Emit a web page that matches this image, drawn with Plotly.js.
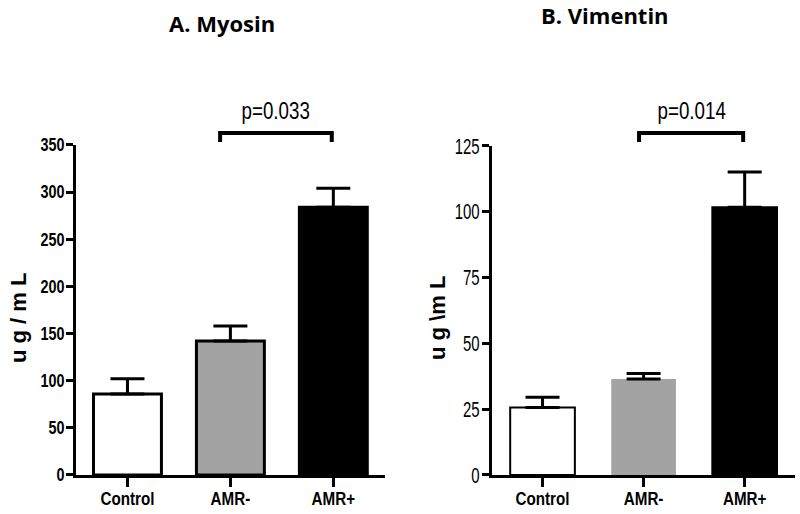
<!DOCTYPE html>
<html>
<head>
<meta charset="utf-8">
<script src="https://cdn.plot.ly/plotly-3.0.1.min.js"></script>
<style>html,body{margin:0;padding:0;background:#fff;}#chart{width:800px;height:514px;}</style>
</head>
<body>
<div id="chart"></div>
<script>
// ---- data ----
const categories = ['Control', 'AMR-', 'AMR+'];
const myosinMean = [86, 142, 284];
const myosinErr = [16, 16, 20];
const vimentinMean = [25.6, 36.5, 101.7];
const vimentinErr = [3.9, 2.1, 13.4];
const myosinTicks = [0, 50, 100, 150, 200, 250, 300, 350];
const vimentinTicks = [0, 25, 50, 75, 100, 125];
const pMyosin = 'p=0.033';
const pVimentin = 'p=0.014';
const titleA = 'A. Myosin';
const titleB = 'B. Vimentin';
const yTitleA = 'u g / m L';
const yTitleB = 'u g \\m L';

const barFill = ['#ffffff', '#a3a3a3', '#000000'];
const sans = '"Liberation Sans", Arial, sans-serif';

const traceA = {
  type: 'bar', x: categories, y: myosinMean, xaxis: 'x', yaxis: 'y',
  width: 0.66,
  marker: { color: barFill, line: { color: '#000', width: 3 } },
  error_y: { type: 'data', symmetric: false, array: myosinErr, arrayminus: myosinErr.map(() => 0),
             color: '#000', thickness: 3, width: 17 },
  showlegend: false, hoverinfo: 'skip'
};
const traceB = {
  type: 'bar', x: categories, y: vimentinMean, xaxis: 'x2', yaxis: 'y2',
  width: 0.64,
  marker: { color: barFill, line: { color: ['#000', '#a3a3a3', '#000'], width: [2, 0, 2] } },
  error_y: { type: 'data', symmetric: false, array: vimentinErr, arrayminus: vimentinErr.map(() => 0),
             color: '#000', thickness: 3, width: 17 },
  showlegend: false, hoverinfo: 'skip'
};

const xaxisCommon = {
  type: 'category', range: [-0.5, 2.5], showline: true, linecolor: '#000', linewidth: 3,
  ticks: 'outside', ticklen: 9, tickwidth: 3, tickcolor: '#000', showgrid: false, zeroline: false,
  ticklabelstandoff: -5,
  tickfont: { family: sans, size: 19, color: '#000', weight: 'bold' }
};
const yaxisCommon = {
  showline: true, linecolor: '#000', linewidth: 3, ticks: 'outside', ticklen: 7, tickwidth: 3,
  tickcolor: '#000', showgrid: false, zeroline: false, tickmode: 'array', ticklabelstandoff: -2
};

const layout = {
  width: 800, height: 514, margin: { l: 0, r: 0, t: 0, b: 0 },
  paper_bgcolor: '#fff', plot_bgcolor: '#fff', bargap: 0.3,
  xaxis: Object.assign({}, xaxisCommon, { domain: [0.095, 0.481], anchor: 'y' }),
  xaxis2: Object.assign({}, xaxisCommon, { domain: [0.615, 0.994], anchor: 'y2',
    tickfont: { family: sans, size: 19, color: '#000', weight: 600 } }),
  yaxis: Object.assign({}, yaxisCommon, {
    anchor: 'x', range: [0, 350], domain: [0.0759, 0.7179], tickvals: myosinTicks, ticktext: myosinTicks.map(String),
    tickfont: { family: sans, size: 18, color: '#000', weight: 'bold' }
  }),
  yaxis2: Object.assign({}, yaxisCommon, {
    anchor: 'x2', range: [0, 125], domain: [0.0759, 0.716], tickvals: vimentinTicks, ticktext: vimentinTicks.map(String),
    tickfont: { family: sans, size: 22, color: '#000' }
  }),
  annotations: [
    { text: titleA, xref: 'paper', yref: 'paper', x: 222 / 800, y: 1 - 23 / 514, showarrow: false,
      xanchor: 'center', yanchor: 'middle', font: { family: '"Open Sans", sans-serif', size: 22, color: '#000', weight: 'bold' } },
    { text: titleB, xref: 'paper', yref: 'paper', x: 605 / 800, y: 1 - 15 / 514, showarrow: false,
      xanchor: 'center', yanchor: 'middle', font: { family: '"Open Sans", sans-serif', size: 22, color: '#000', weight: 'bold' } },
    { text: pMyosin, xref: 'x', yref: 'paper', x: 1.44, y: 1 - 110 / 514, showarrow: false,
      xanchor: 'center', yanchor: 'middle', font: { family: sans, size: 24, color: '#000' } },
    { text: pVimentin, xref: 'x2', yref: 'paper', x: 1.47, y: 1 - 110 / 514, showarrow: false,
      xanchor: 'center', yanchor: 'middle', font: { family: sans, size: 24, color: '#000' } },
    { text: yTitleA, xref: 'paper', yref: 'paper', x: 18 / 800, y: 1 - 318 / 514, showarrow: false, textangle: -90,
      xanchor: 'center', yanchor: 'middle', font: { family: sans, size: 22, color: '#000', weight: 'bold' } },
    { text: yTitleB, xref: 'paper', yref: 'paper', x: 437 / 800, y: 1 - 318 / 514, showarrow: false, textangle: -90,
      xanchor: 'center', yanchor: 'middle', font: { family: sans, size: 22, color: '#000', weight: 'bold' } }
  ],
  shapes: [
    { type: 'path', xref: 'x', yref: 'paper', line: { color: '#000', width: 4 },
      path: 'M 0.9,' + (1 - 142 / 514) + ' L 0.9,' + (1 - 133 / 514) + ' L 1.985,' + (1 - 133 / 514) + ' L 1.985,' + (1 - 142 / 514) },
    { type: 'path', xref: 'x2', yref: 'paper', line: { color: '#000', width: 4 },
      path: 'M 0.955,' + (1 - 142 / 514) + ' L 0.955,' + (1 - 133 / 514) + ' L 1.985,' + (1 - 133 / 514) + ' L 1.985,' + (1 - 142 / 514) }
  ]
};

// Horizontally condense text (the reference uses a narrow typeface)
function condense(sel, sx) {
  document.querySelectorAll(sel).forEach(function (t) {
    const b = t.getBBox();
    const cx = t.getAttribute('text-anchor') === 'end' ? b.x + b.width : b.x + b.width / 2;
    const cy = b.y + b.height / 2;
    const prev = t.getAttribute('transform') || '';
    t.setAttribute('transform', prev + ' translate(' + cx + ',' + cy + ') scale(' + sx + ',1) translate(' + (-cx) + ',' + (-cy) + ')');
  });
}

Plotly.newPlot('chart', [traceA, traceB], layout, { staticPlot: true, displayModeBar: false }).then(function () {
  condense('.xtick text', 0.8);
  condense('.x2tick text', 0.8);
  condense('.ytick text', 0.8);
  condense('.y2tick text', 0.68);
  const ann = document.querySelectorAll('.annotation-text');
  [2, 3].forEach(function (i) {
    const t = ann[i];
    const b = t.getBBox();
    const cx = b.x + b.width / 2, cy = b.y + b.height / 2;
    const prev = t.getAttribute('transform') || '';
    t.setAttribute('transform', prev + ' translate(' + cx + ',' + cy + ') scale(0.78,1) translate(' + (-cx) + ',' + (-cy) + ')');
  });
});
</script>
</body>
</html>
